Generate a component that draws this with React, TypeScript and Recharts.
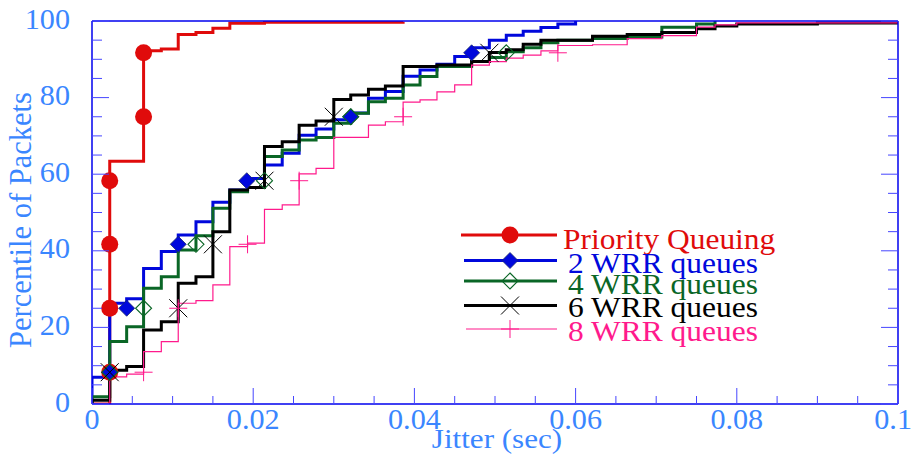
import React from "react";
import { ComposedChart, Line, Scatter, XAxis, YAxis } from "recharts";

// tick values (minor + major)
const X_TICKS = [
  0, 0.005, 0.01, 0.015, 0.02, 0.025, 0.03, 0.035, 0.04, 0.045, 0.05, 0.055, 0.06, 0.065, 0.07,
  0.075, 0.08, 0.085, 0.09, 0.095, 0.1,
];
const Y_TICKS = [0, 5, 10, 15, 20, 25, 30, 35, 40, 45, 50, 55, 60, 65, 70, 75, 80, 85, 90, 95, 100];

// CDF curves: [jitter (sec), percentile]
const PQ_LINE: [number, number][] = [
  [0, 0], [0.0022, 63.4], [0.0064, 92.2], [0.0086, 92.7], [0.0107, 96.5], [0.0129, 97],
  [0.015, 98.1], [0.0171, 99.4], [0.0214, 99.7], [0.0386, 99.8],
];
const WRR2_LINE: [number, number][] = [
  [0, 0], [0, 7], [0.0022, 26.3], [0.0043, 27.5], [0.0064, 35.4], [0.0086, 39.8], [0.0107, 44.1],
  [0.0129, 47.6], [0.015, 52.7], [0.0171, 55.9], [0.0193, 58.9], [0.0214, 62.4], [0.0236, 65.5],
  [0.0257, 70.2], [0.0278, 71.8], [0.03, 74.2], [0.0321, 76], [0.0343, 79.8], [0.0364, 81.6],
  [0.0386, 85.6], [0.0407, 87.2], [0.0428, 88.7], [0.045, 90.7], [0.0471, 93], [0.0493, 95],
  [0.0514, 96.3], [0.0535, 97.3], [0.0557, 98.3], [0.0578, 99.2], [0.06, 100],
];
const WRR4_LINE: [number, number][] = [
  [0, 0], [0, 1.9], [0.0022, 16.3], [0.0043, 20.2], [0.0064, 30.2], [0.0086, 33.2], [0.0107, 40.2],
  [0.0129, 43.9], [0.015, 51.1], [0.0171, 55.4], [0.0193, 56.5], [0.0214, 64.6], [0.0236, 66.3],
  [0.0257, 68.9], [0.0278, 69.6], [0.03, 73.3], [0.0321, 75.9], [0.0343, 78.9], [0.0364, 79.8],
  [0.0386, 83.3], [0.0407, 85.5], [0.0428, 88.1], [0.0471, 89.4], [0.0493, 90.5], [0.0514, 92],
  [0.0535, 93], [0.0557, 94.3], [0.0578, 95], [0.0621, 95.4], [0.0664, 95.8], [0.0707, 98.4],
  [0.075, 99.2], [0.0773, 100],
];
const WRR6_LINE: [number, number][] = [
  [0, 0], [0, 1], [0.0022, 8.8], [0.0043, 9.8], [0.0064, 19.3], [0.0086, 21.5], [0.0107, 31.5],
  [0.0129, 33.2], [0.015, 45], [0.0171, 55.9], [0.0193, 56.5], [0.0214, 67.2], [0.0236, 68.5],
  [0.0257, 72.8], [0.0278, 73.9], [0.03, 79.5], [0.0321, 80.7], [0.0343, 82.2], [0.0364, 83],
  [0.0386, 88.1], [0.0428, 88.5], [0.0471, 89.4], [0.0493, 91.8], [0.0514, 92.5], [0.0535, 93.9],
  [0.0557, 95], [0.0621, 96], [0.0664, 96.5], [0.0707, 97], [0.075, 98], [0.0773, 98.7],
  [0.08, 99.2], [0.09, 99.5], [0.1, 99.5],
];
const WRR8_LINE: [number, number][] = [
  [0, 0], [0.0022, 7.1], [0.0043, 7.8], [0.0064, 13.7], [0.0086, 16.3], [0.0107, 26.3],
  [0.0129, 27], [0.015, 31.1], [0.0171, 41.1], [0.0193, 42], [0.0214, 50.8], [0.0236, 52],
  [0.0257, 60.1], [0.0278, 61.5], [0.03, 69.6], [0.0343, 72.8], [0.0364, 73.7], [0.0386, 78.8],
  [0.0407, 79.4], [0.0428, 81.5], [0.045, 83.3], [0.0471, 88.5], [0.0493, 89.4], [0.0514, 90.3],
  [0.0535, 91.1], [0.0557, 92.2], [0.0578, 93.6], [0.0621, 93.8], [0.0664, 95.4], [0.0707, 96.2],
  [0.075, 98.4], [0.0773, 99], [0.08, 99.5], [0.1, 99.7],
];

// marker positions
const PQ_MARKS: [number, number][] = [
  [0.0022, 8.3], [0.0022, 25], [0.0022, 41.7], [0.0022, 58.3], [0.0064, 75], [0.0064, 91.7],
];
const WRR2_MARKS: [number, number][] = [
  [0.0022, 8.3], [0.0043, 25], [0.0107, 41.7], [0.0192, 58.3], [0.0321, 75], [0.0471, 91.7],
];
const WRR4_MARKS: [number, number][] = [
  [0.0022, 8.3], [0.0064, 25], [0.0129, 41.7], [0.0214, 58.3], [0.0321, 75], [0.0514, 91.7],
];
const WRR6_MARKS: [number, number][] = [
  [0.0022, 8.3], [0.0107, 25], [0.015, 41.7], [0.0214, 58.3], [0.03, 75], [0.0493, 91.7],
];
const WRR8_MARKS: [number, number][] = [
  [0.0064, 8.3], [0.0107, 25], [0.0193, 41.7], [0.0257, 58.3], [0.0386, 75], [0.0578, 91.7],
];

const SERIES_NAMES = ["Priority Queuing", "2 WRR queues", "4 WRR queues", "6 WRR queues", "8 WRR queues"];

const toPts = (arr: [number, number][]) => arr.map(([x, y]) => ({ x, y }));

const FONT = "'Liberation Serif', 'Times New Roman', serif";
const AXIS_BLUE = "#0000ee";
const TICK_BLUE = "#4646ff";
const LABEL_BLUE = "#3a86ff";

// plot frame (px)
const PLOT_LEFT = 92;
const PLOT_RIGHT = 898;
const PLOT_TOP = 21;
const PLOT_BOTTOM = 404;

const series = [
  { name: SERIES_NAMES[0], line: PQ_LINE, marks: PQ_MARKS, color: "#e00b0b", width: 3, kind: "circle" },
  { name: SERIES_NAMES[1], line: WRR2_LINE, marks: WRR2_MARKS, color: "#0008dc", width: 3, kind: "diamond" },
  { name: SERIES_NAMES[2], line: WRR4_LINE, marks: WRR4_MARKS, color: "#0a6626", width: 3, kind: "odiamond" },
  { name: SERIES_NAMES[3], line: WRR6_LINE, marks: WRR6_MARKS, color: "#000000", width: 3, kind: "cross" },
  { name: SERIES_NAMES[4], line: WRR8_LINE, marks: WRR8_MARKS, color: "#ff1a8c", width: 1.2, kind: "plus" },
];

function Marker({ kind, cx, cy, color }: { kind: string; cx: number; cy: number; color: string }) {
  if (kind === "circle") return <circle cx={cx} cy={cy} r={8.5} fill={color} />;
  if (kind === "diamond")
    return (
      <polygon
        points={`${cx},${cy - 8} ${cx + 8},${cy} ${cx},${cy + 8} ${cx - 8},${cy}`}
        fill={color}
        stroke="#1a2a6a"
        strokeWidth={0.8}
      />
    );
  if (kind === "odiamond")
    return (
      <polygon
        points={`${cx},${cy - 8} ${cx + 8},${cy} ${cx},${cy + 8} ${cx - 8},${cy}`}
        fill="none"
        stroke={color}
        strokeWidth={1.1}
      />
    );
  if (kind === "cross")
    return (
      <g stroke={color} strokeWidth={1}>
        <line x1={cx - 9} y1={cy - 9} x2={cx + 9} y2={cy + 9} />
        <line x1={cx - 9} y1={cy + 9} x2={cx + 9} y2={cy - 9} />
      </g>
    );
  return (
    <g stroke={color} strokeWidth={1}>
      <line x1={cx - 9} y1={cy} x2={cx + 9} y2={cy} />
      <line x1={cx} y1={cy - 9} x2={cx} y2={cy + 9} />
    </g>
  );
}

// Times-like text, slightly widened like the original output
function WideText({ x, y, anchor = "start", size = 29, sx = 1.09, color, children }: any) {
  return (
    <text
      transform={`translate(${x} ${y}) scale(${sx} 1)`}
      textAnchor={anchor}
      fontFamily={FONT}
      fontSize={size}
      fill={color}
    >
      {children}
    </text>
  );
}

const isMajor = (v: number, step: number) => Math.abs(v / step - Math.round(v / step)) < 1e-6;

function BottomTick(props: any) {
  const { x, payload } = props;
  const major = isMajor(payload.value, 0.02);
  // last label would run past the page edge: pin its right side to the edge
  const last = payload.value === X_TICKS[X_TICKS.length - 1];
  return (
    <g>
      <line x1={x} x2={x} y1={PLOT_BOTTOM} y2={PLOT_BOTTOM - (major ? 16 : 8)} stroke={TICK_BLUE} strokeWidth={1} />
      {major && (
        <WideText
          x={last ? x + 14 : x}
          y={PLOT_BOTTOM + 25}
          anchor={last ? "end" : "middle"}
          sx={1.04}
          color={LABEL_BLUE}
        >
          {String(payload.value)}
        </WideText>
      )}
    </g>
  );
}

function TopTick(props: any) {
  const { x, payload } = props;
  const major = isMajor(payload.value, 0.02);
  return <line x1={x} x2={x} y1={PLOT_TOP} y2={PLOT_TOP + (major ? 16 : 9)} stroke={TICK_BLUE} strokeWidth={1} />;
}

function LeftTick(props: any) {
  const { y, payload } = props;
  const major = isMajor(payload.value, 20);
  return (
    <g>
      <line x1={PLOT_LEFT} x2={PLOT_LEFT + (major ? 17 : 10)} y1={y} y2={y} stroke={TICK_BLUE} strokeWidth={1} />
      {major && (
        <WideText x={PLOT_LEFT - 22} y={y + 7.5} anchor="end" sx={1.04} color={LABEL_BLUE}>
          {String(payload.value)}
        </WideText>
      )}
    </g>
  );
}

function RightTick(props: any) {
  const { y, payload } = props;
  const major = isMajor(payload.value, 20);
  return <line x1={PLOT_RIGHT} x2={PLOT_RIGHT - (major ? 17 : 10)} y1={y} y2={y} stroke={TICK_BLUE} strokeWidth={1} />;
}

function LegendBox() {
  const rows = [
    { lineY: 235, textY: 249, x1: 461, tx: 563 },
    { lineY: 260.5, textY: 273, x1: 464, tx: 568 },
    { lineY: 281, textY: 294, x1: 464, tx: 568 },
    { lineY: 305.5, textY: 317, x1: 464, tx: 568 },
    { lineY: 329, textY: 340.5, x1: 466, tx: 568 },
  ];
  return (
    <svg width={913} height={454} style={{ position: "absolute", left: 0, top: 0, pointerEvents: "none" }}>
      {series.map((s, i) => (
        <g key={s.name}>
          <line x1={rows[i].x1} x2={557} y1={rows[i].lineY} y2={rows[i].lineY} stroke={s.color} strokeWidth={s.width} />
          <Marker kind={s.kind} cx={510} cy={rows[i].lineY} color={s.color} />
          <WideText x={rows[i].tx} y={rows[i].textY} sx={1.085} color={s.color}>
            {s.name}
          </WideText>
        </g>
      ))}
    </svg>
  );
}

export default function App() {
  return (
    <div style={{ position: "absolute", left: 0, top: 0, width: 913, height: 454, background: "#fff" }}>
      <ComposedChart width={913} height={454} margin={{ top: 0, right: 0, bottom: 0, left: 0 }}>
        <XAxis
          dataKey="x"
          type="number"
          domain={[0, 0.1]}
          ticks={X_TICKS}
          interval={0}
          height={50}
          tickSize={0}
          tickMargin={0}
          tick={<BottomTick />}
          axisLine={{ stroke: AXIS_BLUE, strokeWidth: 1.5 }}
          allowDataOverflow
          label={{
            content: () => (
              <WideText x={497} y={447.5} anchor="middle" size={28} sx={1.11} color={LABEL_BLUE}>
                Jitter (sec)
              </WideText>
            ),
          }}
        />
        <XAxis
          xAxisId="top"
          orientation="top"
          type="number"
          domain={[0, 0.1]}
          ticks={X_TICKS}
          interval={0}
          height={21}
          tickSize={0}
          tickMargin={0}
          tick={<TopTick />}
          axisLine={{ stroke: AXIS_BLUE, strokeWidth: 1.5 }}
          allowDataOverflow
        />
        <YAxis
          dataKey="y"
          type="number"
          domain={[0, 100]}
          ticks={Y_TICKS}
          interval={0}
          width={92}
          tickSize={0}
          tickMargin={0}
          tick={<LeftTick />}
          axisLine={{ stroke: AXIS_BLUE, strokeWidth: 1.5 }}
          allowDataOverflow
          label={{
            content: () => (
              <text
                x={31}
                y={220}
                transform="rotate(-90 31 220)"
                textAnchor="middle"
                fontFamily={FONT}
                fontSize={30.5}
                fill={LABEL_BLUE}
              >
                Percentile of Packets
              </text>
            ),
          }}
        />
        <YAxis
          yAxisId="right"
          orientation="right"
          type="number"
          domain={[0, 100]}
          ticks={Y_TICKS}
          interval={0}
          width={15}
          tickSize={0}
          tickMargin={0}
          tick={<RightTick />}
          axisLine={{ stroke: AXIS_BLUE, strokeWidth: 1.5 }}
          allowDataOverflow
        />
        {series.map((s) => (
          <Line
            key={s.name}
            data={toPts(s.line)}
            dataKey="y"
            type="stepAfter"
            stroke={s.color}
            strokeWidth={s.width}
            dot={false}
            activeDot={false}
            isAnimationActive={false}
          />
        ))}
        {series.map((s) => (
          <Scatter
            key={s.name + "-m"}
            data={toPts(s.marks)}
            dataKey="y"
            isAnimationActive={false}
            shape={(p: any) => <Marker kind={s.kind} cx={p.cx} cy={p.cy} color={s.color} />}
          />
        ))}
      </ComposedChart>
      <LegendBox />
    </div>
  );
}
